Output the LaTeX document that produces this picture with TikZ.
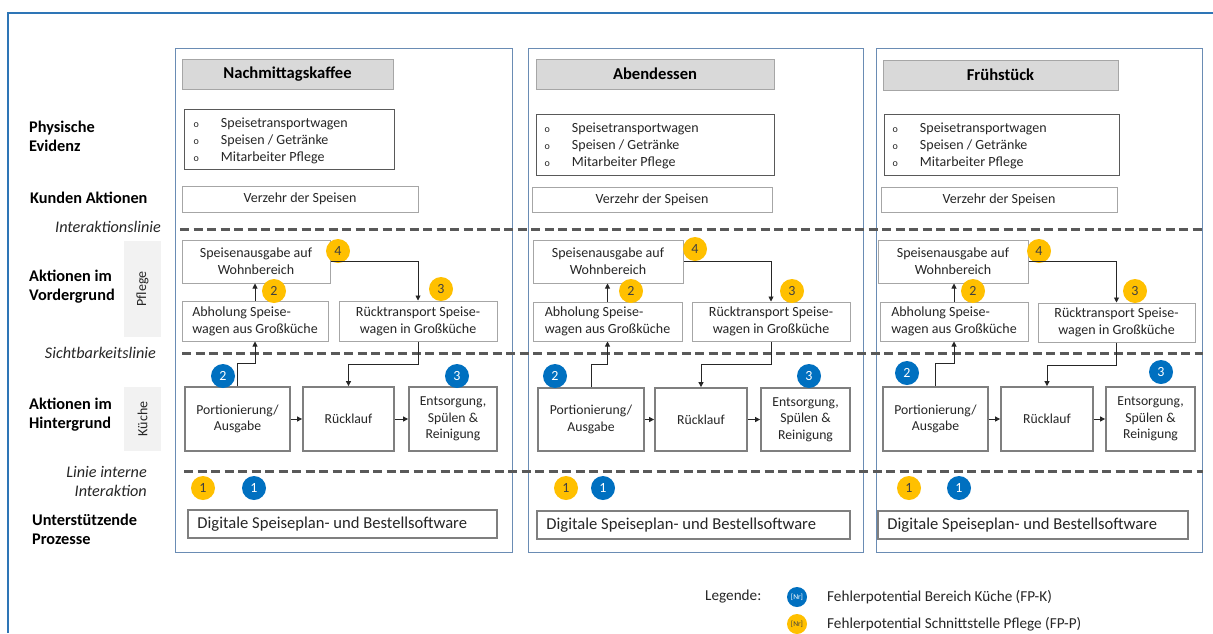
\documentclass[tikz,border=0pt]{standalone}
\usepackage{fontspec}
\setmainfont{Carlito}
\usetikzlibrary{arrows.meta}
\definecolor{outerc}{HTML}{2E75B6}
\definecolor{colfr}{HTML}{6A8CB4}
\definecolor{titlefill}{HTML}{D9D9D9}
\definecolor{lgray}{HTML}{A6A6A6}
\definecolor{mgray}{HTML}{7F7F7F}
\definecolor{dgray}{HTML}{595959}
\definecolor{txt}{HTML}{262626}
\definecolor{fpk}{HTML}{0070C0}
\definecolor{fpp}{HTML}{FFC000}
\definecolor{sidefill}{HTML}{F2F2F2}
\definecolor{ytxt}{HTML}{404040}
\newcommand\fbody{\fontsize{14}{17}\selectfont}
\newcommand\fkue{\fontsize{13.7}{16.5}\selectfont}
\newcommand\flab{\fontsize{16.3}{19}\selectfont\bfseries}
\newcommand\ftitle{\fontsize{16.6}{18}\selectfont\bfseries}
\newcommand\fital{\fontsize{16.2}{19}\selectfont\itshape}
\newcommand\fsoft{\fontsize{16.6}{20}\selectfont}
\newcommand\flegend{\fontsize{15.2}{18}\selectfont}
\newcommand\mybox[7]{\node[#2, minimum width={#5-#3}, minimum height={#6-#4}] (#1) at ({(#3+#5)/2},{(#4+#6)/2}) {#7};}
\newcommand\evlist{\begin{tabular}{@{}l@{\hspace{22pt}}l@{}}{\fontsize{10}{10}\selectfont o} & Speisetransportwagen\\ {\fontsize{10}{10}\selectfont o} & Speisen / Getränke\\ {\fontsize{10}{10}\selectfont o} & Mitarbeiter Pflege\end{tabular}}
\tikzset{
  colframe/.style={draw=colfr, line width=1pt, inner sep=0pt},
  titlebox/.style={draw=lgray, fill=titlefill, line width=1pt, font=\ftitle, text=black, inner sep=0pt},
  evbox/.style={draw=dgray, line width=1pt, inner sep=0pt},
  evtext/.style={font=\fbody, text=txt, inner sep=0pt, anchor=west},
  vzbox/.style={draw=lgray, line width=1pt, font=\fbody, text=txt, inner sep=0pt},
  pbox/.style={draw=lgray, fill=white, line width=1pt, font=\fbody, text=txt, align=center, inner sep=0pt},
  pboxl/.style={pbox, align=left},
  kbox/.style={draw=mgray, fill=white, line width=1.8pt, font=\fkue, text=txt, align=center, inner sep=0pt},
  softbox/.style={draw=mgray, line width=1.5pt, font=\fsoft, text=txt, align=left, inner sep=0pt},
  softtext/.style={font=\fsoft, text=txt, inner sep=0pt, anchor=west},
  bbadge/.style={circle, fill=fpk, text=white, minimum size=24pt, inner sep=0pt, font=\fontsize{14}{14}\selectfont},
  ybadge/.style={circle, fill=fpp, text=ytxt, minimum size=24pt, inner sep=0pt, font=\fontsize{14}{14}\selectfont},
  sepline/.style={draw=dgray, line width=3pt, dash pattern=on 9pt off 4.5pt},
  arr/.style={draw=txt, line width=0.9pt, -{Triangle[length=5pt,width=5pt]}},
  lab/.style={font=\flab, text=black, align=left, anchor=west, inner sep=0pt},
  ilab/.style={font=\fital, text=txt, align=right, anchor=east, inner sep=0pt},
  side/.style={fill=sidefill, font=\fbody, text=txt, inner sep=0pt, rotate=90},
  legtext/.style={font=\flegend, text=txt, anchor=west, inner sep=0pt},
}
\begin{document}
\begin{tikzpicture}[x=1pt,y=-1pt]
\useasboundingbox (0,0) rectangle (1213,633);
\fill[white] (0,0) rectangle (1213,633);
\draw[outerc, line width=2.2pt] (8,633) -- (8,13) -- (1213,13);

% left labels
\node[lab] (lphys) at (29,136) {Physische\\Evidenz};
\node[lab] (lkund) at (30,198) {Kunden Aktionen};
\node[ilab] (linter) at (161,227) {Interaktionslinie};
\node[lab] (lvord) at (29,287) {Aktionen im\\Vordergrund};
\node[side, minimum width=96pt, minimum height=37pt] (spfl) at (142.5,289) {Pflege};
\node[ilab] (lsicht) at (156,353) {Sichtbarkeitslinie};
\node[lab] (lhint) at (29,415) {Aktionen im\\Hintergrund};
\node[side, minimum width=64pt, minimum height=37pt] (skue) at (142.5,419) {Küche};
\node[ilab] (lintern) at (147,481.5) {Linie interne\\Interaktion};
\node[lab] (lunter) at (32,529.5) {Unterstützende\\Prozesse};

% ===== column 1
\mybox{c1}{colframe}{175}{48}{512}{552}{}
\mybox{t1}{titlebox}{182}{59}{393}{89}{Nachmittagskaffee}
\mybox{ev1}{evbox}{184}{109}{394}{169}{}
\node[evtext] (evt1) at ([xshift=10pt,yshift=-2.5pt]ev1.west) {\evlist};
\mybox{vz1}{vzbox}{182}{186}{418}{212}{Verzehr der Speisen}
\mybox{sa1}{pbox}{182}{240}{330}{283}{Speisenausgabe auf\\Wohnbereich}
\mybox{ab1}{pboxl}{182}{301}{328}{341}{Abholung Speise-\\wagen aus Großküche}
\mybox{rt1}{pbox}{339}{301}{497}{341}{Rücktransport Speise-\\wagen in Großküche}
\mybox{po1}{kbox}{185}{387}{290}{451}{Portionierung/\\Ausgabe}
\mybox{rl1}{kbox}{303}{387}{394}{451}{Rücklauf}
\mybox{en1}{kbox}{409}{387}{497}{451}{Entsorgung,\\Spülen \&\\Reinigung}
\mybox{sw1}{softbox}{188}{510}{497}{538}{}
\node[softtext] (swt1) at ([xshift=10pt]sw1.west) {Digitale Speiseplan- und Bestellsoftware};
\node[ybadge] (y4a) at (338,251) {4};
\node[ybadge] (y2a) at (274,291) {2};
\node[ybadge] (y3a) at (441,289) {3};
\node[bbadge] (b2a) at (223,376) {2};
\node[bbadge] (b3a) at (457,376) {3};
\node[ybadge] (y1a) at (203,488) {1};
\node[bbadge] (b1a) at (254,488) {1};

% ===== column 2
\mybox{c2}{colframe}{528}{48}{863}{552}{}
\mybox{t2}{titlebox}{536}{59}{774}{89}{Abendessen}
\mybox{ev2}{evbox}{536}{114}{774}{175}{}
\node[evtext] (evt2) at ([xshift=9pt,yshift=-2pt]ev2.west) {\evlist};
\mybox{vz2}{vzbox}{532}{187}{772}{212}{Verzehr der Speisen}
\mybox{sa2}{pbox}{533}{240}{683}{283}{Speisenausgabe auf\\Wohnbereich}
\mybox{ab2}{pboxl}{533}{302}{682}{341}{Abholung Speise-\\wagen aus Großküche}
\mybox{rt2}{pbox}{692}{302}{850}{341}{Rücktransport Speise-\\wagen in Großküche}
\mybox{po2}{kbox}{538}{388}{644}{451}{Portionierung/\\Ausgabe}
\mybox{rl2}{kbox}{655}{388}{747}{451}{Rücklauf}
\mybox{en2}{kbox}{761}{388}{850}{451}{Entsorgung,\\Spülen \&\\Reinigung}
\mybox{sw2}{softbox}{537}{511}{850}{539}{}
\node[softtext] (swt2) at ([xshift=10pt]sw2.west) {Digitale Speiseplan- und Bestellsoftware};
\node[ybadge] (y4b) at (695,249) {4};
\node[ybadge] (y2b) at (631,291) {2};
\node[ybadge] (y3b) at (792,291) {3};
\node[bbadge] (b2b) at (555,376) {2};
\node[bbadge] (b3b) at (809,376) {3};
\node[ybadge] (y1b) at (566,488) {1};
\node[bbadge] (b1b) at (603,488) {1};

% ===== column 3
\mybox{c3}{colframe}{876}{48}{1202}{552}{}
\mybox{t3}{titlebox}{883}{60}{1118}{90}{Frühstück}
\mybox{ev3}{evbox}{884}{114}{1119}{175}{}
\node[evtext] (evt3) at ([xshift=9pt,yshift=-2pt]ev3.west) {\evlist};
\mybox{vz3}{vzbox}{881}{187}{1117}{212}{Verzehr der Speisen}
\mybox{sa3}{pbox}{878}{240}{1028}{283}{Speisenausgabe auf\\Wohnbereich}
\mybox{ab3}{pboxl}{880}{302}{1028}{341}{Abholung Speise-\\wagen aus Großküche}
\mybox{rt3}{pbox}{1038}{303}{1195}{342}{Rücktransport Speise-\\wagen in Großküche}
\mybox{po3}{kbox}{883}{387}{988}{451}{Portionierung/\\Ausgabe}
\mybox{rl3}{kbox}{1001}{387}{1093}{451}{Rücklauf}
\mybox{en3}{kbox}{1106}{387}{1195}{451}{Entsorgung,\\Spülen \&\\Reinigung}
\mybox{sw3}{softbox}{878}{511}{1188}{539}{}
\node[softtext] (swt3) at ([xshift=10pt]sw3.west) {Digitale Speiseplan- und Bestellsoftware};
\node[ybadge] (y4c) at (1039,251) {4};
\node[ybadge] (y2c) at (973,291) {2};
\node[ybadge] (y3c) at (1135,291) {3};
\node[bbadge] (b2c) at (907,373) {2};
\node[bbadge] (b3c) at (1161,372) {3};
\node[ybadge] (y1c) at (909,488) {1};
\node[bbadge] (b1c) at (959,488) {1};

% separator lines
\coordinate (ia) at (180,229); \coordinate (ib) at (1203,229);
\coordinate (sa) at (182,353); \coordinate (sb) at (1203,353);
\coordinate (la) at (184,471); \coordinate (lb) at (1203,471);
\draw[sepline] (ia) -- (ib);
\draw[sepline] (sa) -- (sb);
\draw[sepline] (la) -- (lb);

% connectors
\foreach \c in {1,2,3}{
  \draw[arr] (ab\c.north) -- (ab\c.north |- sa\c.south);
  \draw[arr] (sa\c.east) -| (rt\c.north);
  \draw[arr] (po\c.north) -- ++(0,-23) -| (ab\c.south);
  \draw[arr] (rt\c.south) -- ++(0,23) -| (rl\c.north);
  \draw[arr] (po\c.east) -- (rl\c.west);
  \draw[arr] (rl\c.east) -- (en\c.west);
}

% legend
\node[legtext] (leg) at (705,597) {Legende:};
\node[circle, fill=fpk, text=white, minimum size=20pt, inner sep=0pt, font=\fontsize{7.5}{8}\selectfont] (lgk) at (797,597) {[Nr]};
\node[legtext] (lgkt) at (827,597) {Fehlerpotential Bereich Küche (FP-K)};
\node[circle, fill=fpp, text=ytxt, minimum size=20pt, inner sep=0pt, font=\fontsize{7.5}{8}\selectfont] (lgp) at (797,624) {[Nr]};
\node[legtext] (lgpt) at (827,624) {Fehlerpotential Schnittstelle Pflege (FP-P)};
\end{tikzpicture}
\end{document}
